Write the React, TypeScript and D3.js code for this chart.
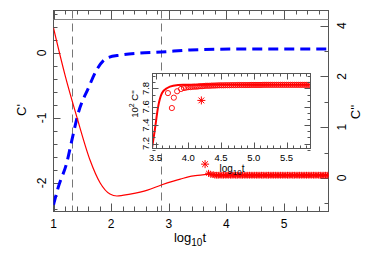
import React from "react";
import * as d3 from "d3";

// ---------- data ----------
const redLogT = [1.0, 1.2, 1.41, 1.635, 1.81, 1.98, 2.1, 2.33, 2.63, 2.87, 3.08, 3.2, 3.43, 3.55, 3.72];
const redC1 = [0.385, -0.34, -1.0, -1.65, -2.0, -2.17, -2.2, -2.17, -2.11, -2.03, -1.97, -1.94, -1.89, -1.88, -1.86];

const blueLogT = [1.0, 1.083, 1.23, 1.32, 1.43, 1.605, 1.75, 1.925, 2.16, 2.5, 2.87, 3.37, 4.24, 5.78];
const blueC2 = [-0.53, -0.18, 0.3, 0.75, 1.28, 1.77, 2.13, 2.36, 2.42, 2.46, 2.48, 2.52, 2.54, 2.54];

const starLogT = [3.69, 3.73, 3.77, 3.8, 3.83, 3.86, 3.89, 3.92, 3.95, 3.98, 4.01, 4.04, 4.07, 4.1, 4.13, 4.16, 4.19, 4.22, 4.25, 4.28, 4.31, 4.34, 4.37, 4.4, 4.43, 4.46, 4.49, 4.52, 4.55, 4.58, 4.61, 4.64, 4.67, 4.7, 4.73, 4.76, 4.79, 4.82, 4.85, 4.88, 4.91, 4.94, 4.97, 5.0, 5.03, 5.06, 5.09, 5.12, 5.15, 5.18, 5.21, 5.24, 5.27, 5.3, 5.33, 5.36, 5.39, 5.42, 5.45, 5.48, 5.51, 5.54, 5.57, 5.6, 5.63, 5.66, 5.69, 5.72, 5.75, 5.78];
const starC1 = [-1.85, -1.87, -1.87, -1.88, -1.88, -1.88, -1.88, -1.88, -1.88, -1.88, -1.88, -1.88, -1.88, -1.88, -1.88, -1.88, -1.88, -1.88, -1.88, -1.88, -1.88, -1.88, -1.88, -1.88, -1.88, -1.88, -1.88, -1.88, -1.88, -1.88, -1.88, -1.88, -1.88, -1.88, -1.88, -1.88, -1.88, -1.88, -1.88, -1.88, -1.88, -1.88, -1.88, -1.88, -1.88, -1.88, -1.88, -1.88, -1.88, -1.88, -1.88, -1.88, -1.88, -1.88, -1.88, -1.88, -1.88, -1.88, -1.88, -1.88, -1.88, -1.88, -1.88, -1.88, -1.88, -1.88, -1.88, -1.88, -1.88, -1.88];
const outlierLogT = [3.63];
const outlierC1 = [-1.71];

const insetLineLogT = [3.447, 3.49, 3.54, 3.6, 3.68, 3.77, 3.92, 4.2, 5.87];
const insetLineVal = [7.15, 7.35, 7.6, 7.75, 7.805, 7.83, 7.84, 7.84, 7.84];

const circleLogT = [3.69, 3.75, 3.78, 3.83, 3.89, 3.935, 3.97, 4.0, 4.03, 4.06, 4.09, 4.12, 4.15, 4.18, 4.21, 4.24, 4.27, 4.3, 4.33, 4.36, 4.39, 4.42, 4.45, 4.48, 4.51, 4.54, 4.57, 4.6, 4.63, 4.66, 4.69, 4.72, 4.75, 4.78, 4.81, 4.84, 4.87, 4.9, 4.93, 4.96, 4.99, 5.02, 5.05, 5.08, 5.11, 5.14, 5.17, 5.2, 5.23, 5.26, 5.29, 5.32, 5.35, 5.38, 5.41, 5.44, 5.47, 5.5, 5.53, 5.56, 5.59, 5.62, 5.65, 5.68, 5.71, 5.74, 5.77, 5.8, 5.83, 5.86];
const circleVal = [7.75, 7.587, 7.7, 7.77, 7.795, 7.805, 7.81, 7.815, 7.815, 7.818, 7.82, 7.82, 7.822, 7.825, 7.825, 7.828, 7.83, 7.83, 7.83, 7.832, 7.832, 7.833, 7.834, 7.835, 7.835, 7.835, 7.836, 7.836, 7.836, 7.837, 7.837, 7.837, 7.838, 7.838, 7.838, 7.838, 7.838, 7.838, 7.838, 7.839, 7.839, 7.839, 7.839, 7.839, 7.839, 7.84, 7.84, 7.84, 7.84, 7.84, 7.84, 7.84, 7.84, 7.84, 7.84, 7.84, 7.84, 7.84, 7.84, 7.84, 7.84, 7.84, 7.84, 7.84, 7.84, 7.84, 7.84, 7.84, 7.84, 7.84];
const insetStarLogT = [4.2];
const insetStarVal = [7.67];

const vLineLogT = [1.32, 2.87];

const xTicks = [1, 2, 3, 4, 5];
const xTickLabels = ["1", "2", "3", "4", "5"];
const leftTicks = [0, -1, -2];
const leftTickLabels = ["0", "-1", "-2"];
const rightTicks = [0, 1, 2, 3];
const rightTickLabels = ["0", "1", "2", "4"];
const insetXTicks = [3.5, 4.0, 4.5, 5.0, 5.5];
const insetXTickLabels = ["3.5", "4.0", "4.5", "5.0", "5.5"];
const insetYTicks = [7.2, 7.4, 7.6, 7.8];
const insetYTickLabels = ["7.2", "7.4", "7.6", "7.8"];

const FONT = "'Liberation Sans', Arial, Helvetica, sans-serif";
const AX = "#555";

function starPath(cx: number, cy: number, s: number) {
  const d = s * 0.72;
  return `M${cx - s},${cy}L${cx + s},${cy}M${cx},${cy - s}L${cx},${cy + s}M${cx - d},${cy - d}L${cx + d},${cy + d}M${cx - d},${cy + d}L${cx + d},${cy - d}`;
}

export default function App() {
  const L = 53.5, R = 328.5, T = 10.5, B = 211.5;
  const x = d3.scaleLinear().domain([1, 5.78]).range([53.5, 329]);
  const yL = d3.scaleLinear().domain([0, -2]).range([53, 183]);
  const yR = d3.scaleLinear().domain([0, 3]).range([178, 25.6]);

  const IL = 152.5, IR = 310.5, IT = 73.5, IB = 148.5;
  const xi = d3.scaleLinear().domain([3.5, 5.5]).range([155.5, 286.5]);
  const yi = d3.scaleLinear().domain([7.2, 7.8]).range([143.5, 88.5]);

  const line = d3.line<[number, number]>().curve(d3.curveMonotoneX);
  const redPath = line(redLogT.map((t, i) => [x(t), yL(redC1[i])] as [number, number]));
  const bluePath = line(blueLogT.map((t, i) => [x(t), yR(blueC2[i])] as [number, number]));
  const insetPath = line(insetLineLogT.map((t, i) => [xi(t), yi(insetLineVal[i])] as [number, number]));

  const starsD = starLogT.map((t, i) => starPath(x(t), yL(starC1[i]), 3.4)).join("");
  const outlierD = outlierLogT.map((t, i) => starPath(x(t), yL(outlierC1[i]), 4)).join("");
  const insetStarD = insetStarLogT.map((t, i) => starPath(xi(t), yi(insetStarVal[i]), 4)).join("");

  // tick positions
  const xMinor = d3.range(0, 25).map((i) => 1 + i * 0.2).filter((v) => v <= 5.78);
  const yLMinor = d3.range(0, 16).map((i) => 0.6 - i * 0.2).filter((v) => v >= -2.44);
  const yRMinor = d3.range(0, 8).map((i) => -0.5 + i * 0.5);
  const xiMinor = d3.range(0, 25).map((i) => 3.5 + i * 0.1).filter((v) => v <= 5.87);
  const yiMinor = d3.range(0, 14).map((i) => 7.2 - 0.2 / 3 + (i * 0.2) / 3).filter((v) => v <= 7.96);
  const isInt = (v: number) => Math.abs(v - Math.round(v)) < 1e-6;
  const isHalf = (v: number) => Math.abs(v * 2 - Math.round(v * 2)) < 1e-6;

  return (
    <svg width={382} height={263} style={{ position: "absolute", left: 0, top: 0, background: "#fff" }} fontFamily={FONT}>
      <defs>
        <clipPath id="mainClip"><rect x={L} y={T} width={R - L} height={B - T} /></clipPath>
        <clipPath id="insetClip"><rect x={IL} y={IT} width={IR - IL} height={IB - IT} /></clipPath>
      </defs>
      <rect x={0} y={0} width={382} height={263} fill="#fff" />

      {/* main frame */}
      <rect x={L} y={T} width={R - L} height={B - T} fill="none" stroke={AX} strokeWidth={1} />
      <line x1={L} x2={R} y1={19.5} y2={19.5} stroke="#888" strokeWidth={1} />
      {xMinor.map((v, i) => {
        const px = Math.round(x(v)) + 0.5;
        const maj = isInt(v);
        return (
          <g key={"xt" + i} stroke={AX}>
            <line x1={px} x2={px} y1={B} y2={B - (maj ? 8 : 5)} />
            <line x1={px} x2={px} y1={T} y2={T + (maj ? 9 : 4)} />
          </g>
        );
      })}
      {yLMinor.map((v, i) => {
        const py = Math.round(yL(v)) + 0.5;
        return <line key={"yl" + i} x1={L} x2={L + (isInt(v) ? 7 : 4)} y1={py} y2={py} stroke={AX} />;
      })}
      {yRMinor.map((v, i) => {
        const py = Math.round(yR(v)) + 0.5;
        return <line key={"yr" + i} x1={R} x2={R - (isInt(v) ? 8 : 4)} y1={py} y2={py} stroke={AX} />;
      })}

      {/* dashed reference lines */}
      {vLineLogT.map((v, i) => (
        <line key={"vl" + i} x1={Math.round(x(v)) + 0.5} x2={Math.round(x(v)) + 0.5} y1={T} y2={B} stroke="#777" strokeWidth={1} strokeDasharray="8,5" />
      ))}

      <g clipPath="url(#mainClip)">
        <path d={bluePath || ""} fill="none" stroke="#0000ff" strokeWidth={3} strokeDasharray="10,6" />
        <path d={redPath || ""} fill="none" stroke="#ff0000" strokeWidth={1.2} />
        <path d={starsD} fill="none" stroke="#ff0000" strokeWidth={1} />
        <path d={outlierD} fill="none" stroke="#ff0000" strokeWidth={1} />
      </g>

      {/* inset */}
      <rect x={IL} y={IT} width={IR - IL} height={IB - IT} fill="#fff" stroke="none" />
      <g clipPath="url(#insetClip)">
        <path d={insetPath || ""} fill="none" stroke="#ff0000" strokeWidth={2} />
        {circleLogT.map((t, i) => (
          <circle key={"c" + i} cx={xi(t)} cy={yi(circleVal[i])} r={2.6} fill="none" stroke="#ff0000" strokeWidth={0.9} />
        ))}
        <path d={insetStarD} fill="none" stroke="#ff0000" strokeWidth={1} />
      </g>
      <rect x={IL} y={IT} width={IR - IL} height={IB - IT} fill="none" stroke={AX} strokeWidth={1} />
      {xiMinor.map((v, i) => {
        const px = Math.round(xi(v)) + 0.5;
        const maj = isHalf(v);
        return (
          <g key={"xit" + i} stroke={AX}>
            <line x1={px} x2={px} y1={IB} y2={IB - (maj ? 6 : 3)} />
            <line x1={px} x2={px} y1={IT} y2={IT + (maj ? 6 : 3)} />
          </g>
        );
      })}
      {yiMinor.map((v, i) => {
        const py = Math.round(yi(v)) + 0.5;
        const maj = Math.abs(v * 10 - Math.round(v * 10)) < 1e-6;
        return (
          <g key={"yit" + i} stroke={AX}>
            <line x1={IL} x2={IL + (maj ? 6 : 3)} y1={py} y2={py} />
            <line x1={IR} x2={IR - (maj ? 6 : 3)} y1={py} y2={py} />
          </g>
        );
      })}

      {/* main tick labels */}
      {xTicks.map((v, i) => (
        <text key={"xl" + i} x={x(v)} y={227.5} fontSize={12} textAnchor="middle" fill="#000">{xTickLabels[i]}</text>
      ))}
      {leftTicks.map((v, i) => (
        <text key={"ll" + i} transform={`translate(46,${yL(v)}) rotate(-90)`} fontSize={12} textAnchor="middle" fill="#000">{leftTickLabels[i]}</text>
      ))}
      {rightTicks.map((v, i) => (
        <text key={"rl" + i} transform={`translate(345.5,${yR(v)}) rotate(-90)`} fontSize={12} textAnchor="middle" fill="#000">{rightTickLabels[i]}</text>
      ))}
      <text x={190} y={242} fontSize={13} textAnchor="middle" fill="#000">
        log<tspan fontSize={10} dy={4}>10</tspan><tspan dy={-4}>t</tspan>
      </text>
      <text transform="translate(26,110) rotate(-90)" fontSize={13} textAnchor="middle" fill="#000">C'</text>
      <text transform="translate(360,112) rotate(-90)" fontSize={13} textAnchor="middle" fill="#000">C''</text>

      {/* inset labels */}
      {insetXTicks.map((v, i) => (
        <text key={"ixl" + i} x={xi(v)} y={161} fontSize={9.5} textAnchor="middle" fill="#000">{insetXTickLabels[i]}</text>
      ))}
      {insetYTicks.map((v, i) => (
        <text key={"iyl" + i} transform={`translate(148.5,${yi(v)}) rotate(-90)`} fontSize={9.5} textAnchor="middle" fill="#000">{insetYTickLabels[i]}</text>
      ))}
      <text x={232} y={171.5} fontSize={10} textAnchor="middle" fill="#000">
        log<tspan fontSize={8} dy={3}>10</tspan><tspan dy={-3}>t</tspan>
      </text>
      <text transform="translate(138,104) rotate(-90)" fontSize={9.5} textAnchor="middle" fill="#000">
        10<tspan fontSize={7} dy={-4}>2</tspan><tspan dy={4}> C''</tspan>
      </text>
    </svg>
  );
}
